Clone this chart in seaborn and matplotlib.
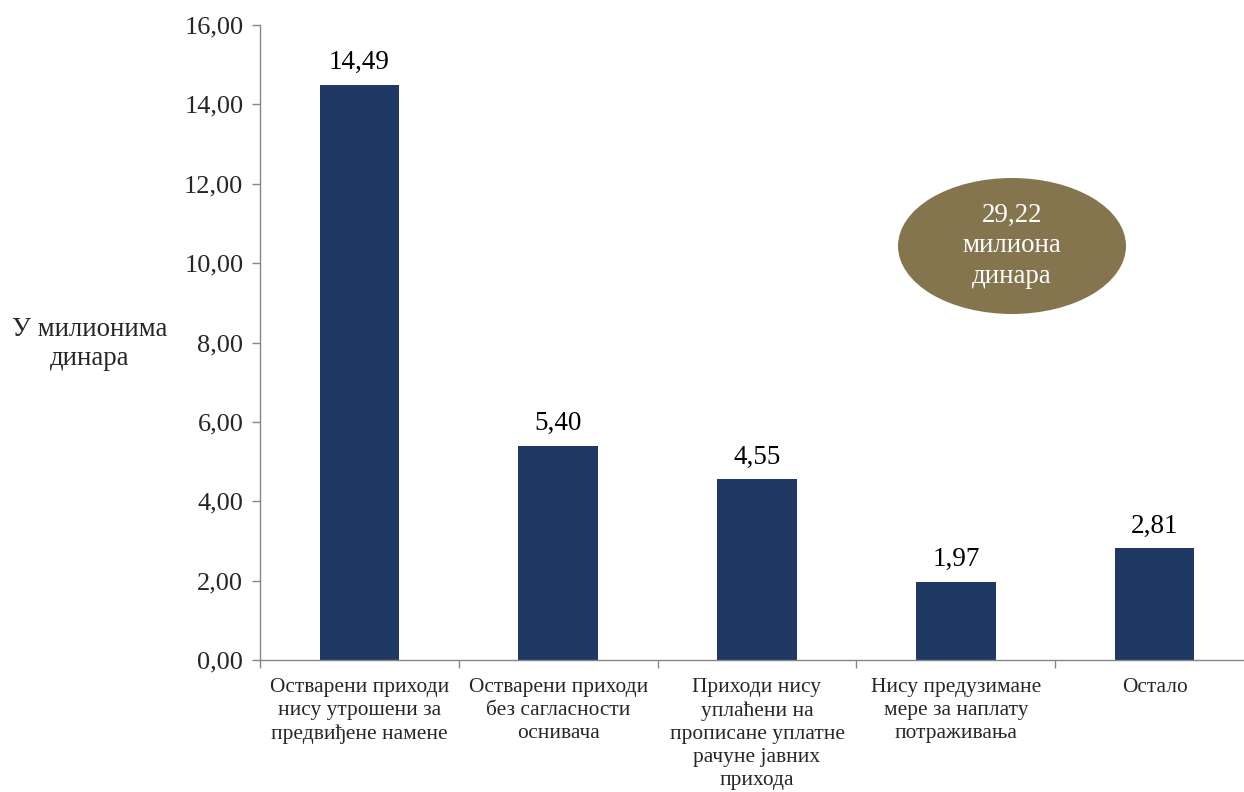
import matplotlib
matplotlib.use("Agg")
import matplotlib.pyplot as plt
import seaborn as sns
import pandas as pd
from matplotlib.patches import Ellipse
from matplotlib.ticker import FixedLocator, FuncFormatter

categories = [
    "Остварени приходи\nнису утрошени за\nпредвиђене намене",
    "Остварени приходи\nбез сагласности\nоснивача",
    "Приходи нису\nуплаћени на\nпрописане уплатне\nрачуне јавних\nприхода",
    "Нису предузимане\nмере за наплату\nпотраживања",
    "Остало",
]
values = [14.49, 5.40, 4.55, 1.97, 2.81]
total_text = "29,22\nмилиона\nдинара"
y_label = "У милионима\nдинара"

sns.set_theme(style="white")
plt.rcParams["font.family"] = ["Liberation Serif", "DejaVu Serif"]

W, H = 1244, 792
fig = plt.figure(figsize=(W / 100, H / 100), dpi=100)
left, right, top, bottom = 260, 1254, 25, 660
ax = fig.add_axes([left / W, 1 - bottom / H, (right - left) / W, (bottom - top) / H])

df = pd.DataFrame({"cat": categories, "val": values})
sns.barplot(data=df, x="cat", y="val", color="#1F3864", saturation=1,
            width=0.40, ax=ax, edgecolor="none")

ax.set_ylim(0, 16)
ax.set_xlim(-0.5, len(categories) - 0.5)
ax.set_yticks([0, 2, 4, 6, 8, 10, 12, 14, 16])
ax.yaxis.set_major_formatter(FuncFormatter(lambda v, p: f"{v:.2f}".replace(".", ",")))
ax.tick_params(axis="y", labelsize=19, length=6, width=1, color="#868686",
               direction="out", left=True, pad=6)
ax.tick_params(axis="x", which="major", length=0, labelsize=15.4, pad=13)
ax.xaxis.set_minor_locator(FixedLocator([i - 0.5 for i in range(len(categories) + 1)]))
ax.tick_params(axis="x", which="minor", length=6, width=1, color="#868686",
               direction="out", bottom=True)
ax.set_xlabel("")
ax.set_ylabel("")
for lab in ax.get_xticklabels():
    lab.set_linespacing(1.29)
    lab.set_verticalalignment("top")

for s in ["top", "right"]:
    ax.spines[s].set_visible(False)
for s in ["left", "bottom"]:
    ax.spines[s].set_color("#868686")
    ax.spines[s].set_linewidth(1)
ax.grid(False)

for i, v in enumerate(values):
    ax.annotate(f"{v:.2f}".replace(".", ","), (i, v), xytext=(0, 16),
                textcoords="offset points", ha="center", va="center",
                fontsize=19.5, color="black")

fig.text(90 / W, 1 - 344 / H, y_label, ha="center", va="center",
         fontsize=19.3, linespacing=1.2)

ell = Ellipse((1012 / W, 1 - 246 / H), 228 / W, 136 / H,
              transform=fig.transFigure, facecolor="#85754E", edgecolor="none")
fig.patches.append(ell)
fig.text(1012 / W, 1 - 246 / H, total_text, ha="center", va="center",
         fontsize=19.4, color="white", linespacing=1.3)

fig.savefig("out.png", dpi=100, facecolor="white")
